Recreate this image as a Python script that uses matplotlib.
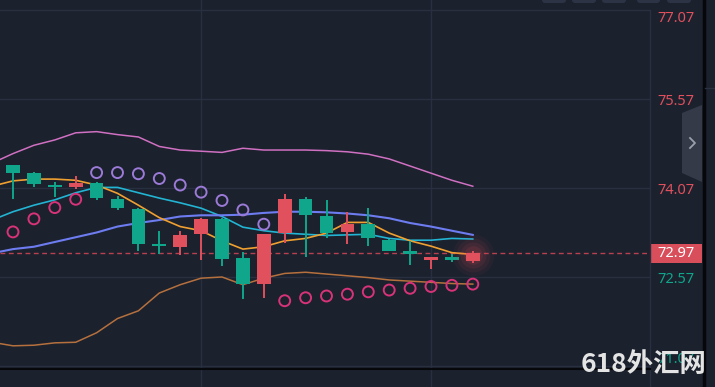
import numpy as np
import matplotlib
matplotlib.use('Agg')
import matplotlib.pyplot as plt
from matplotlib import transforms
from matplotlib.patches import Rectangle, Polygon, FancyBboxPatch

# ---------------- data ----------------
opens  = [74.45, 74.32, 74.10, 74.08, 74.15, 73.89, 73.72, 73.11, 73.08, 73.29, 73.54, 72.89,
          72.45, 73.31, 73.88, 73.60, 73.32, 73.46, 73.20, 73.01, 72.85, 72.91, 72.84]
highs  = [74.46, 74.34, 74.17, 74.28, 74.17, 73.94, 73.73, 73.35, 73.35, 73.56, 73.56, 72.99,
          73.30, 73.97, 73.92, 73.86, 73.67, 73.74, 73.21, 73.18, 72.91, 72.95, 73.01]
lows   = [73.89, 74.09, 73.92, 74.05, 73.86, 73.70, 73.00, 72.96, 72.94, 72.85, 72.76, 72.20,
          72.22, 73.15, 72.91, 73.22, 73.13, 73.10, 73.00, 72.78, 72.70, 72.83, 72.80]
closes = [74.32, 74.14, 74.09, 74.15, 73.90, 73.74, 73.12, 73.10, 73.28, 73.54, 72.87, 72.45,
          73.29, 73.88, 73.61, 73.31, 73.46, 73.23, 73.01, 72.96, 72.91, 72.85, 72.97]

sar = [73.33, 73.55, 73.74, 73.88, 74.33, 74.33, 74.31, 74.23, 74.12, 74.00, 73.86, 73.70,
       73.46, 72.17, 72.22, 72.25, 72.28, 72.32, 72.35, 72.38, 72.41, 72.43, 72.45]

# indicator lines start one bar before the first visible candle
boll_upper = [74.49, 74.65, 74.79, 74.88, 75.00, 75.02, 74.97, 74.93, 74.77, 74.71, 74.69, 74.67,
              74.74, 74.71, 74.71, 74.71, 74.70, 74.68, 74.64, 74.56, 74.44, 74.32, 74.20, 74.10]
boll_lower = [71.47, 71.41, 71.42, 71.46, 71.47, 71.63, 71.87, 72.00, 72.30, 72.44, 72.55, 72.57,
              72.44, 72.55, 72.63, 72.65, 72.62, 72.59, 72.56, 72.52, 72.50, 72.48, 72.46, 72.45]
ma_cyan    = [73.53, 73.67, 73.78, 73.87, 73.99, 74.08, 74.08, 73.99, 73.90, 73.82, 73.73, 73.59,
              73.41, 73.35, 73.31, 73.29, 73.27, 73.28, 73.29, 73.22, 73.19, 73.19, 73.22, 73.21]
ma_orange  = [74.10, 74.19, 74.22, 74.22, 74.20, 74.12, 73.98, 73.78, 73.57, 73.42, 73.35, 73.18,
              73.04, 73.08, 73.18, 73.22, 73.31, 73.49, 73.49, 73.31, 73.18, 73.09, 72.98, 72.95]
ma_blue    = [72.97, 73.04, 73.08, 73.16, 73.24, 73.32, 73.42, 73.48, 73.53, 73.59, 73.61, 73.61,
              73.62, 73.65, 73.67, 73.67, 73.66, 73.64, 73.61, 73.56, 73.48, 73.42, 73.35, 73.28]

price_ticks = [77.07, 75.57, 74.07, 72.57, 71.07]
tick_labels = ['77.07', '75.57', '74.07', '72.57', '71.07']
last_price = 72.97
vgrid_bars = [9, 20]
watermark = '618外汇网'

# ---------------- style ----------------
BG = '#1b212d'
GRID = '#283040'
UP = '#e0505d'
DOWN = '#10a68c'

W, H = 715, 387
fig = plt.figure(figsize=(W / 100, H / 100), dpi=100, facecolor=BG)
ax = fig.add_axes([0, 0, 650 / W, 1.0], facecolor=BG)

n = len(opens)
xc = np.arange(n)
xl = np.arange(-1, n)

# scale: 59.33 px per unit, 74.07 at px 188
ppu = 59.33
ax.set_ylim(74.07 - (H - 188) / ppu, 74.07 + 188 / ppu)
ax.set_xlim(-13 / 20.9, 637 / 20.9)

for p in price_ticks:
    ax.axhline(p, color=GRID, lw=1, zorder=0)
for v in vgrid_bars:
    ax.axvline(v, color=GRID, lw=1, zorder=0)

# indicator lines
ax.plot(xl, boll_upper, color='#d070c2', lw=1.1, zorder=2)
ax.plot(xl, boll_lower, color='#b5703e', lw=1.1, zorder=2)
ax.plot(xl, ma_cyan, color='#22b4d2', lw=1.2, zorder=2)
ax.plot(xl, ma_blue, color='#6d7cf0', lw=1.5, zorder=2)
ax.plot(xl, ma_orange, color='#f0a030', lw=1.2, zorder=3)

# candles
o = np.array(opens); c = np.array(closes); hi = np.array(highs); lo = np.array(lows)
cols = [UP if cc >= oo else DOWN for oo, cc in zip(o, c)]
ax.vlines(xc, lo, hi, colors=cols, lw=1.4, zorder=4)
body_bottom = np.minimum(o, c)
body_h = np.maximum(np.abs(c - o), 0.028)
ax.bar(xc, body_h, bottom=body_bottom, width=0.66, color=cols, zorder=5, linewidth=0)

# glow on last candle
for s, a in [(900, 0.05), (600, 0.07), (350, 0.09), (180, 0.12)]:
    ax.scatter([xc[-1]], [c[-1] - 0.03], s=s, color=UP, alpha=a, lw=0, zorder=6)

# parabolic SAR
sar_a = np.array(sar)
sar_cols = ['#9b7ad8' if sv > cc else '#d8337a' for sv, cc in zip(sar_a, c)]
ax.scatter(xc, sar_a, s=62, facecolors='none', edgecolors=sar_cols, linewidths=1.4, zorder=6)

# last price dashed line
ax.axhline(last_price, color='#b84050', lw=1, ls=(0, (3.5, 2.5)), zorder=1)

for sp in ax.spines.values():
    sp.set_visible(False)
ax.set_xticks([]); ax.set_yticks([])

# price labels on right
blend = transforms.blended_transform_factory(ax.transAxes, ax.transData)
fnt = dict(family=['Noto Sans', 'DejaVu Sans'], fontsize=10.5)
for p, lab in zip(price_ticks, tick_labels):
    dy = -2.5
    if p == max(price_ticks):
        dy = -8.5
    if p == min(price_ticks):
        dy = 6
    off = transforms.ScaledTranslation(0, dy / 100, fig.dpi_scale_trans)
    col = UP if p > last_price else DOWN
    ax.text(1 + 7 / 650, p, lab, transform=blend + off, color=col, va='center', ha='left',
            clip_on=False, **fnt)

box_h = 19 / ppu
ax.add_patch(Rectangle((1 + 1 / 650, last_price - box_h / 2 - 0.005), 51 / 650, box_h,
                       transform=blend, color='#d94e5b', clip_on=False, zorder=7, lw=0))
ax.text(1 + 7 / 650, last_price - 0.005, f'{last_price:.2f}', transform=blend, color='white',
        va='center', ha='left', clip_on=False, zorder=8, **fnt)

# overlay for UI chrome (pixel coords)
ov = fig.add_axes([0, 0, 1, 1], zorder=10)
ov.set_xlim(0, W); ov.set_ylim(H, 0); ov.axis('off'); ov.patch.set_alpha(0)
ov.plot([650, 650], [10, H], color=GRID, lw=1)
ov.plot([0, 650], [368.5, 368.5], color='#06080c', lw=1.5)
ov.plot([703.5, 703.5], [0, H], color='#05070a', lw=2.5)
ov.plot([705, W], [88, 88], color='#2a3140', lw=1)
for x0, x1 in [(542, 566), (572, 596), (602, 626), (637, 660), (667, 691)]:
    ov.add_patch(FancyBboxPatch((x0, -6), x1 - x0, 9, boxstyle='round,pad=0,rounding_size=3',
                                fc='#2b3344', ec='none'))
ov.add_patch(Polygon([(682, 113), (702, 105), (702, 182), (682, 173)], closed=True,
                     fc='#343a48', ec='none'))
ov.plot([690, 695, 690], [138, 143, 148], color='#9aa0ab', lw=1.3)
ov.text(644, 364, watermark, family=['Noto Sans CJK SC', 'DejaVu Sans'], fontsize=19,
        fontweight='bold', color='#e4e4e4', ha='center', va='center')

fig.savefig('out.png', dpi=100, facecolor=BG)
